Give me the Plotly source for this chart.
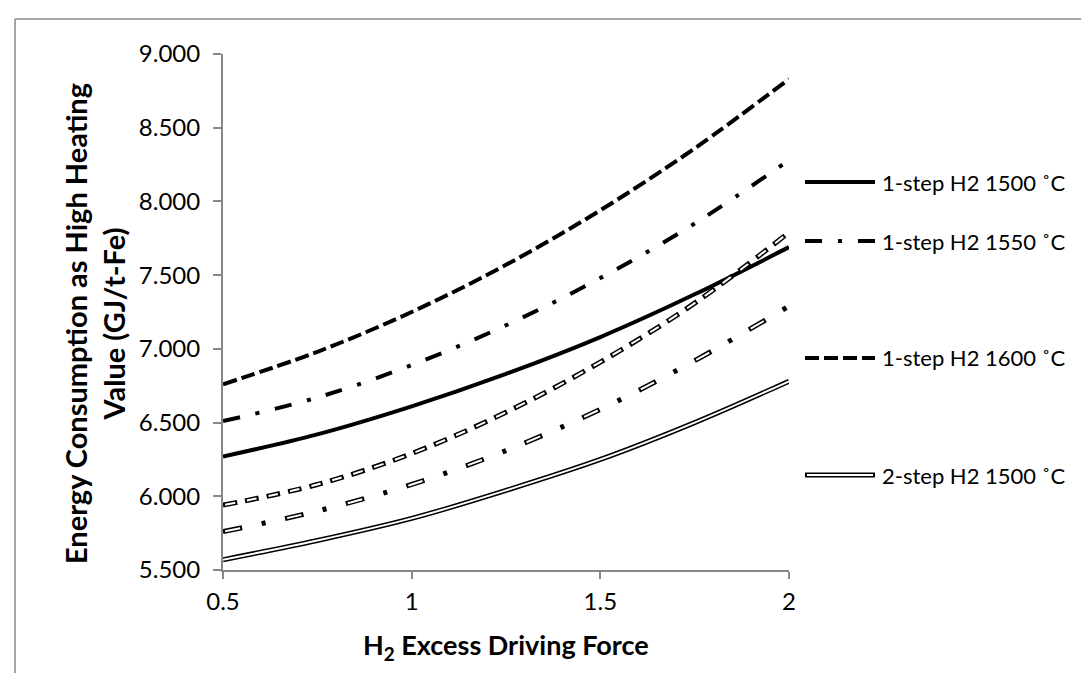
import plotly.graph_objects as go

# ---- data ----
x_vals = [0.5, 0.75, 1.0, 1.25, 1.5, 1.75, 2.0]
one_step_1500 = [6.27, 6.42, 6.61, 6.83, 7.08, 7.37, 7.69]
one_step_1550 = [6.51, 6.67, 6.89, 7.16, 7.48, 7.85, 8.28]
one_step_1600 = [6.76, 6.98, 7.25, 7.57, 7.94, 8.36, 8.83]
two_step_1500 = [5.57, 5.70, 5.85, 6.04, 6.25, 6.50, 6.78]
two_step_1550 = [5.76, 5.90, 6.08, 6.31, 6.59, 6.92, 7.29]
two_step_1600 = [5.94, 6.08, 6.29, 6.57, 6.91, 7.31, 7.79]

x_ticks = [0.5, 1, 1.5, 2]
x_ticktext = ["0.5", "1", "1.5", "2"]
y_ticks = [5.5, 6.0, 6.5, 7.0, 7.5, 8.0, 8.5, 9.0]

legend_names = ["1-step H2 1500 ˚C", "1-step H2 1550 ˚C",
                "1-step H2 1600 ˚C", "2-step H2 1500 ˚C"]
x_title = "<b>H<sub>2</sub> Excess Driving Force</b>"
y_title = "<b>Energy Consumption as High Heating<br>Value (GJ/t-Fe)</b>"

# ---- layout geometry ----
W, H = 1089, 673
L, R, T, B = 215, 308, 46, 111
PW, PH = W - L - R, H - T - B

def px(xp):
    return (xp - L) / PW

def py(yp):
    return (H - B - yp) / PH

FONT = "Lato"
AXIS_GRAY = "#878787"

DASH_1600 = "14px,5px"
DASH_1550 = "17px,16px,4px,16px"
H_DASH_OUT = "14px,8px"
H_DASH_IN = "0px,2px,10px,10px"
H_DD_OUT = "19px,20px,4px,20px"
H_DD_IN = "0px,2px,15px,46px"

fig = go.Figure()

def solid_line(y, dash, name):
    fig.add_trace(go.Scatter(x=x_vals, y=y, mode="lines", name=name,
                             line=dict(color="black", width=4, dash=dash, shape="spline"),
                             showlegend=False, hoverinfo="skip"))

def hollow_line(y, dash_out, dash_in, name):
    fig.add_trace(go.Scatter(x=x_vals, y=y, mode="lines", name=name,
                             line=dict(color="black", width=5, dash=dash_out, shape="spline"),
                             showlegend=False, hoverinfo="skip"))
    fig.add_trace(go.Scatter(x=x_vals, y=y, mode="lines", name=name + " inner",
                             line=dict(color="white", width=2, dash=dash_in, shape="spline"),
                             showlegend=False, hoverinfo="skip"))

solid_line(one_step_1500, "solid", legend_names[0])
solid_line(one_step_1550, DASH_1550, legend_names[1])
solid_line(one_step_1600, DASH_1600, legend_names[2])
hollow_line(two_step_1600, H_DASH_OUT, H_DASH_IN, "2-step H2 1600 ˚C")
hollow_line(two_step_1550, H_DD_OUT, H_DD_IN, "2-step H2 1550 ˚C")
hollow_line(two_step_1500, "solid", "solid", legend_names[3])

# ---- manual legend (Excel-like, irregular slots) ----
shapes = []
annotations = []
leg_y = [174, 233, 350, 467]
leg_styles = [("solid", None), (DASH_1550, None), (DASH_1600, None), ("solid", "solid")]
for name, yy, (d_out, d_in) in zip(legend_names, leg_y, leg_styles):
    if d_in is None:
        shapes.append(dict(type="line", xref="paper", yref="paper",
                           x0=px(797), x1=px(867), y0=py(yy), y1=py(yy),
                           line=dict(color="black", width=4, dash=d_out)))
    else:
        shapes.append(dict(type="line", xref="paper", yref="paper",
                           x0=px(797), x1=px(867), y0=py(yy), y1=py(yy),
                           line=dict(color="black", width=5, dash=d_out)))
        shapes.append(dict(type="line", xref="paper", yref="paper",
                           x0=px(799), x1=px(865), y0=py(yy), y1=py(yy),
                           line=dict(color="white", width=2, dash=d_in)))
    annotations.append(dict(text=name, xref="paper", yref="paper",
                            x=px(872), y=py(yy), xanchor="left", yanchor="middle",
                            showarrow=False, font=dict(family=FONT, size=22, color="black")))

# axis titles
annotations.append(dict(text=x_title, xref="paper", yref="paper",
                        x=px(498), y=py(638), xanchor="center", yanchor="middle",
                        showarrow=False, font=dict(family=FONT, size=27, color="black")))
annotations.append(dict(text=y_title, xref="paper", yref="paper",
                        x=px(86), y=py(316), xanchor="center", yanchor="middle",
                        textangle=-90, showarrow=False,
                        font=dict(family=FONT, size=29, color="black")))

# outer chart border (top and left visible)
shapes.append(dict(type="line", xref="paper", yref="paper",
                   x0=px(7), x1=px(1095), y0=py(11), y1=py(11),
                   line=dict(color=AXIS_GRAY, width=1.5)))
shapes.append(dict(type="line", xref="paper", yref="paper",
                   x0=px(7), x1=px(7), y0=py(11), y1=py(680),
                   line=dict(color=AXIS_GRAY, width=1.5)))

fig.update_layout(
    width=W, height=H,
    margin=dict(l=L, r=R, t=T, b=B, autoexpand=False),
    paper_bgcolor="white", plot_bgcolor="white",
    showlegend=False,
    shapes=shapes, annotations=annotations,
    font=dict(family=FONT, color="black"),
)

fig.update_xaxes(
    range=[0.5, 2], tickvals=x_ticks, ticktext=x_ticktext,
    showgrid=False, zeroline=False, showline=True, linecolor=AXIS_GRAY, linewidth=2,
    ticks="outside", ticklen=7, tickwidth=2, tickcolor=AXIS_GRAY,
    tickfont=dict(family=FONT, size=24, color="black"), ticklabelstandoff=2,
)
fig.update_yaxes(
    range=[5.5, 9.0], tickvals=y_ticks, tickformat=".3f",
    showgrid=False, zeroline=False, showline=True, linecolor=AXIS_GRAY, linewidth=2,
    ticks="outside", ticklen=8, tickwidth=2, tickcolor=AXIS_GRAY,
    tickfont=dict(family=FONT, size=24, color="black"), ticklabelstandoff=8,
)

fig.write_html("out.html")
